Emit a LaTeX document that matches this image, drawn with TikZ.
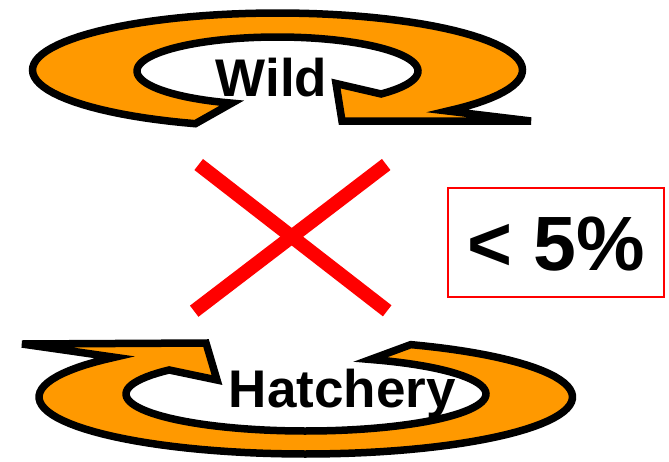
\documentclass[tikz,border=0pt]{standalone}
\usepackage{fontspec}
\setmainfont{Liberation Sans}
\definecolor{ringorange}{RGB}{255,153,0}
\definecolor{xred}{RGB}{255,0,0}
\begin{document}
\begin{tikzpicture}[x=1pt,y=-1pt,
  ring/.style={fill=ringorange,draw=black,line width=7.5pt,line join=miter},
  ringlabel/.style={font=\fontsize{53}{60}\selectfont\bfseries,inner sep=0pt,anchor=base},
  crossline/.style={draw=xred,line width=14pt},
  pctbox/.style={draw=xred,line width=2pt,fill=none},
  pctlabel/.style={font=\fontsize{77}{88}\selectfont\bfseries,inner sep=0pt,anchor=base}]
\useasboundingbox (0,0) rectangle (669,461);

% ---- top ring arrow (Wild)
\path[ring]
  plot[domain=109.6:406,samples=90,variable=\t] ({277.5+245*cos(\t)},{70+57*sin(\t)})
  -- (531,121) -- (342,121) -- (336,83.5)
  -- plot[domain=402.5:109,samples=90,variable=\t] ({277.5+140.5*cos(\t)},{71+34*sin(\t)})
  -- cycle;
\node[ringlabel] (wild) at (271.5,96.7) {Wild};

% ---- bottom ring arrow (Hatchery)
\path[ring]
  plot[domain=-66.8:224.2,samples=90,variable=\t] ({305.75+266.75*cos(\t)},{397+57*sin(\t)})
  -- (22,344) -- (206,343) -- (217,380)
  -- plot[domain=220.5:-69,samples=90,variable=\t] ({306+180*cos(\t)},{394+37*sin(\t)})
  -- cycle;
\node[ringlabel] (hatchery) at (342.2,407.3) {Hatchery};

% ---- red cross
\coordinate (xa1) at (198.7,164.5);
\coordinate (xa2) at (387.2,310.8);
\coordinate (xb1) at (386.2,164.5);
\coordinate (xb2) at (194.2,311.2);
\draw[crossline] (xa1) -- (xa2);
\draw[crossline] (xb1) -- (xb2);

% ---- percentage box
\draw[pctbox] (447.5,187.5) rectangle (664,296.5);
\node[pctlabel] (pct) at (556,270) {< 5\%};
\end{tikzpicture}
\end{document}
